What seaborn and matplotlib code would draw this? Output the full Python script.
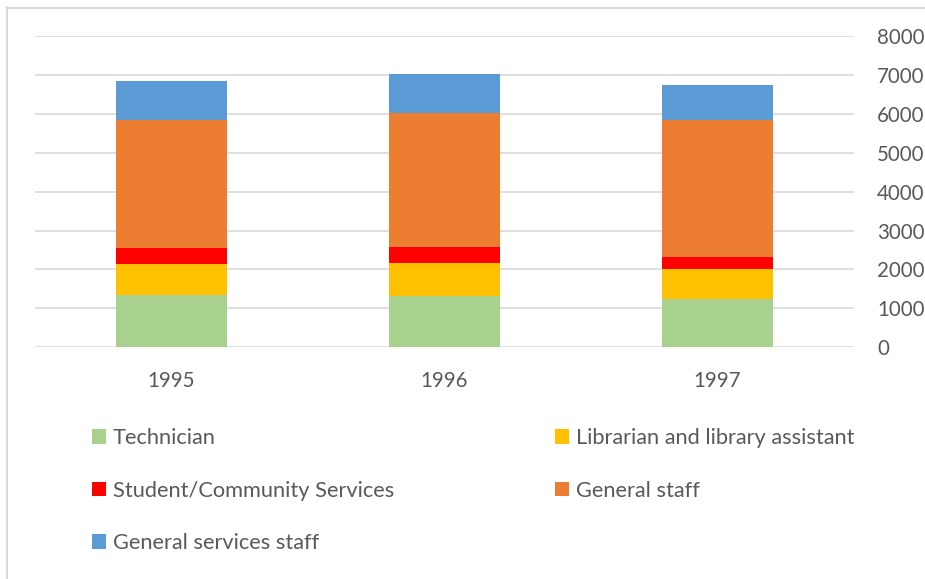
import numpy as np
import pandas as pd
import matplotlib
matplotlib.use("Agg")
import matplotlib.pyplot as plt
from matplotlib.patches import Patch
from matplotlib.lines import Line2D
import seaborn as sns

years = ["1995", "1996", "1997"]
series_names = ["Technician", "Librarian and library assistant",
                "Student/Community Services", "General staff",
                "General services staff"]
technician = [1340, 1310, 1235]
librarian = [800, 860, 765]
student = [400, 395, 330]
general_staff = [3300, 3445, 3510]
general_services = [1010, 1010, 890]
colors = ["#A9D18E", "#FFC000", "#FF0000", "#ED7D31", "#5B9BD5"]
yticks = [0, 1000, 2000, 3000, 4000, 5000, 6000, 7000, 8000]

sns.set_theme(style="white")
plt.rcParams["font.family"] = ["Lato", "DejaVu Sans"]

W, H = 925, 579
fig = plt.figure(figsize=(W / 100, H / 100), dpi=100)
ax = fig.add_axes([35 / W, 1 - 347.3 / H, (854 - 35) / W, (347.3 - 36) / H])

values = [technician, librarian, student, general_staff, general_services]
cum = np.cumsum(np.array(values), axis=0)
# draw from tallest cumulative down so each segment shows
for i in range(len(series_names) - 1, -1, -1):
    df = pd.DataFrame({"year": years, "value": cum[i]})
    sns.barplot(data=df, x="year", y="value", color=colors[i], width=0.403,
                saturation=1, ax=ax, zorder=3, linewidth=0)

ax.set_ylim(0, 8000)
ax.set_xlim(-0.5, 2.5)
ax.set_yticks(yticks)
ax.set_yticklabels([str(t) for t in yticks])
ax.yaxis.tick_right()
ax.grid(axis="y", color="#D9D9D9", linewidth=1.2, zorder=0)
ax.grid(axis="x", visible=False)
for s in ax.spines.values():
    s.set_visible(False)
ax.tick_params(axis="y", length=0, pad=16.5, labelsize=14.8, labelcolor="#595959")
ax.tick_params(axis="x", length=0, pad=17, labelsize=14.8, labelcolor="#595959")
ax.set_xlabel("")
ax.set_ylabel("")

# chart border (top and left visible)
fig.add_artist(Line2D([6.5 / W, 6.5 / W], [0, 1 - 7 / H], color="#D9D9D9", lw=1.5))
fig.add_artist(Line2D([6 / W, 1], [1 - 7.5 / H, 1 - 7.5 / H], color="#D9D9D9", lw=1.5))

handles = [Patch(facecolor=c, edgecolor="none") for c in colors]
leg_kw = dict(frameon=False, fontsize=15.7, handlelength=0.65, handleheight=0.65,
              handletextpad=0.3, labelspacing=1.5, borderpad=0, borderaxespad=0,
              labelcolor="#595959", loc="upper left")
leg1 = fig.legend([handles[0], handles[2], handles[4]],
                  [series_names[0], series_names[2], series_names[4]],
                  bbox_to_anchor=(92 / W, 1 - 428 / H), **leg_kw)
leg2 = fig.legend([handles[1], handles[3]],
                  [series_names[1], series_names[3]],
                  bbox_to_anchor=(555 / W, 1 - 428 / H), **leg_kw)

fig.savefig("out.png", dpi=100, facecolor="white")
